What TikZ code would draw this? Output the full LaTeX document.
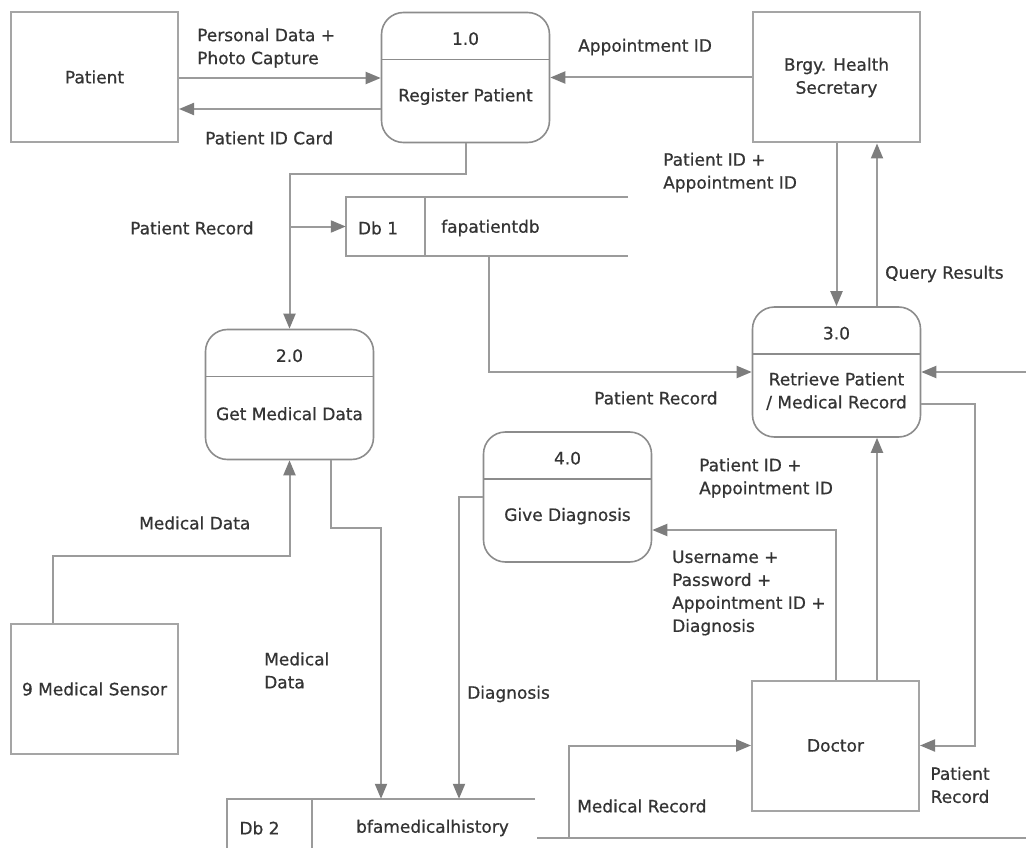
\documentclass[tikz,border=0pt]{standalone}
\usepackage{fontspec}
\setmainfont{DejaVu Sans}[FakeBold=0.7]
\usetikzlibrary{arrows.meta}
\definecolor{linegray}{RGB}{155,155,155}
\definecolor{tipgray}{RGB}{125,125,125}
\definecolor{boxgray}{RGB}{165,165,165}
\definecolor{procgray}{RGB}{140,140,140}
\definecolor{txtgray}{RGB}{52,52,52}
\begin{document}
\begin{tikzpicture}[x=1pt,y=-1pt,
  every node/.style={font=\fontsize{17}{23}\selectfont, text=txtgray, inner sep=0pt},
  entity/.style={draw=boxgray, line width=2pt, minimum width=167pt, minimum height=130pt, align=center},
  process/.style={draw=procgray, line width=1.6pt, rounded corners=22pt, minimum width=168pt, minimum height=130pt,
    path picture={\draw[procgray, line width=1.6pt]
      ([yshift=-47pt]path picture bounding box.north west) --
      ([yshift=-47pt]path picture bounding box.north east);}},
  ptext/.style={align=center},
  store/.style={minimum width=#1, minimum height=59pt},
  flow/.style={draw=linegray, line width=2pt, -{Triangle[length=15pt,width=12pt,color=tipgray]}},
  plain/.style={draw=linegray, line width=2pt},
  lbl/.style={anchor=west, align=left},
]
\useasboundingbox (0,0) rectangle (1026,848);
\clip (0,0) rectangle (1026,848);
\fill[white] (0,0) rectangle (1026,848);

% external entities
\node[entity] (patient) at (94.5,77) {Patient};
\node[entity] (brgy) at (836.5,77.5) {Brgy. Health\\Secretary};
\node[entity] (sensor) at (94.5,689) {9 Medical Sensor};
\node[entity] (doctor) at (835.5,745.5) {Doctor};

% processes
\node[process] (p1) at (465.5,77.5) {};
\node (p1n) at ([yshift=-27pt]p1.north) {1.0};
\node[ptext] (p1t) at ([yshift=-85pt]p1.north) {Register Patient};

\node[process] (p2) at (289.5,394.5) {};
\node (p2n) at ([yshift=-27pt]p2.north) {2.0};
\node[ptext] (p2t) at ([yshift=-85pt]p2.north) {Get Medical Data};

\node[process] (p3) at (836.5,372) {};
\node (p3n) at ([yshift=-27pt]p3.north) {3.0};
\node[ptext] (p3t) at ([yshift=-85pt]p3.north) {Retrieve Patient\\/ Medical Record};

\node[process] (p4) at (567.5,497) {};
\node (p4n) at ([yshift=-27pt]p4.north) {4.0};
\node[ptext] (p4t) at ([yshift=-85pt]p4.north) {Give Diagnosis};

% data stores (open on the right)
\node[store=282pt] (db1) at (487,226.5) {};
\draw[plain] (db1.north east) -- (db1.north west) -- (db1.south west) -- (db1.south east);
\draw[plain] ([xshift=79pt]db1.north west) -- ([xshift=79pt]db1.south west);
\node (db1id) at (378,228) {Db 1};
\node[anchor=west] (db1nm) at (441,228) {fapatientdb};

\node[store=308pt] (db2) at (381,828.5) {};
\draw[plain] (db2.north east) -- (db2.north west) -- (db2.south west) -- (db2.south east);
\draw[plain] ([xshift=85pt]db2.north west) -- ([xshift=85pt]db2.south west);
\node (db2id) at (259.5,828) {Db 2};
\node (db2nm) at (432.5,828) {bfamedicalhistory};

% data flows
\draw[flow] (patient.east |- 0,78) -- (p1.west |- 0,78);
\draw[flow] (p1.west |- 0,109) -- (patient.east |- 0,109);
\draw[flow] (brgy.west) -- (p1.east |- brgy.west);
\draw[flow] (p1.south) |- (p2.north |- 0,174) -- (p2.north);
\draw[flow] (p2.north |- db1.west) -- (db1.west);
\draw[flow] ([xshift=2pt]db1.south) |- (p3.west);
\draw[flow] (brgy.south) -- (p3.north);
\draw[flow] (p3.north -| 877,0) -- (brgy.south -| 877,0);
\coordinate (edgeR) at (1026,372);
\draw[flow] (edgeR) -- (p3.east);
\draw[flow] (p3.east |- 0,404) -- (975,404) |- (doctor.east);
\draw[flow] (doctor.north -| 877,0) -- (p3.south -| 877,0);
\draw[flow] (doctor.north) |- (p4.east |- 0,530);
\draw[flow] (p4.west) -| (db2.north -| 459,0);
\draw[flow] (p2.south -| 331,0) |- (381,528) -- (db2.north -| 381,0);
\draw[flow] (sensor.north -| 53,0) |- (p2.south |- 0,556) -- (p2.south);
\coordinate (mrL) at (537,838);
\coordinate (mrR) at (1026,838);
\draw[plain] (mrL) -- (mrR);
\draw[flow] (mrL -| 569,0) |- (doctor.west);

% flow labels
\node[lbl] (l1) at (197,48) {Personal Data +\\Photo Capture};
\node[lbl] (l2) at (205,138) {Patient ID Card};
\node[lbl] (l3) at (578,47) {Appointment ID};
\node[lbl] (l4) at (130,228) {Patient Record};
\node[lbl] (l5) at (663,172.5) {Patient ID +\\Appointment ID};
\node[lbl] (l6) at (885,274) {Query Results};
\node[lbl] (l7) at (594,398) {Patient Record};
\node[lbl] (l8) at (139,523) {Medical Data};
\node[lbl] (l9) at (699,478) {Patient ID +\\Appointment ID};
\node[lbl] (l10) at (672,593) {Username +\\Password +\\Appointment ID +\\Diagnosis};
\node[lbl] (l11) at (264,670.5) {Medical\\Data};
\node[lbl] (l12) at (467,694) {Diagnosis};
\node[lbl] (l13) at (577,806) {Medical Record};
\node[align=center] (l14) at (960,785) {Patient\\Record};
\end{tikzpicture}
\end{document}
